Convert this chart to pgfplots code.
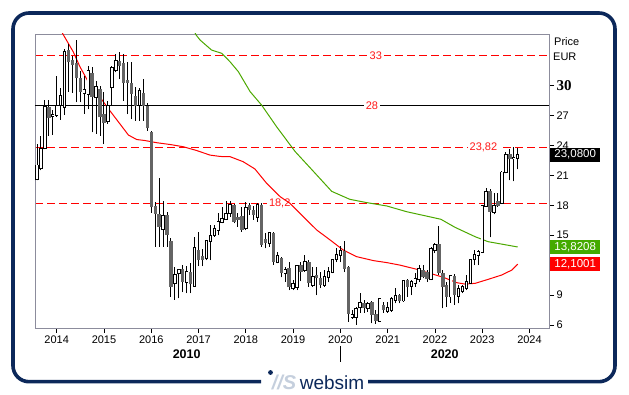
\documentclass[border=0pt]{standalone}
\usepackage{pgfplots}
\pgfplotsset{compat=1.18}
\usepackage{pgfplotstable}
\usepackage{fontspec}
\setmainfont{Liberation Sans}
\newfontfamily\serifb{Liberation Serif}
\newcommand\fs[1]{\fontsize{#1}{#1}\selectfont}
\definecolor{navy}{HTML}{0C285A}
\definecolor{framegray}{HTML}{8C8C9C}
\definecolor{candlegray}{HTML}{646464}
\definecolor{tagred}{HTML}{FF0000}
\definecolor{taggreen}{HTML}{44AA00}
\definecolor{magreen}{HTML}{4CA800}
\definecolor{logolight}{HTML}{C5CFDD}
\definecolor{lblred}{rgb}{1,0.1,0.1}

\pgfplotstableread{
k o h l c
-5 20.6 24.2 20.5 22.0
-4 21.7 25.0 21.5 23.65
-3 23.75 28.6 23.6 27.9
-2 27.9 28.6 25.0 26.8
-1 26.95 27.6 25.1 27.05
0 27.06 31.0 26.9 28.0
1 28.07 29.8 26.6 28.94
2 27.85 33.7 27.1 33.35
3 33.58 34.2 29.4 32.35
4 32.58 33.0 29.3 32.11
5 32.25 34.6 28.35 30.74
6 30.74 31.5 28.35 29.4
7 29.24 31.0 27.2 29.57
8 29.17 32.0 27.66 31.44
9 31.24 31.85 25.33 28.9
10 28.84 30.5 25.16 29.84
11 29.67 30.0 25.0 26.83
12 27.16 29.34 24.15 26.23
13 26.43 28.5 26.16 28.0
14 29.84 32.0 28.0 31.78
15 31.61 33.18 31.34 32.45
16 32.51 33.35 30.67 31.95
17 32.25 33.18 28.5 30.24
18 30.57 32.35 27.16 30.3
19 30.24 32.35 26.66 29.17
20 29.0 29.84 26.49 27.95
21 28.1 29.8 26.5 29.5
22 29.23 30.7 26.5 27.96
23 27.96 28.3 25.5 25.72
24 25.4 25.5 17.26 17.8
25 17.93 18.37 13.85 17.13
26 17.13 20.71 13.85 15.86
27 15.6 18.4 13.85 16.93
28 17.03 17.3 13.85 15.0
29 14.43 14.69 8.83 9.8
30 10.17 11.84 8.5 11.01
31 11.18 11.61 8.67 11.51
32 11.57 12.0 9.3 10.34
33 10.34 11.9 9.2 11.28
34 11.28 12.18 9.2 10.07
35 9.94 14.79 9.9 13.68
36 13.52 15.35 11.9 12.51
37 12.92 13.6 11.9 12.51
38 12.68 14.5 12.5 14.42
39 14.45 16.0 12.51 14.92
40 15.02 16.0 14.85 15.62
41 15.52 17.2 15.0 16.29
42 16.36 17.8 16.2 16.63
43 16.6 18.43 16.53 17.09
44 17.2 18.43 16.86 18.03
45 18.03 18.1 16.2 16.36
46 16.86 17.2 15.86 16.53
47 16.93 17.86 15.35 15.52
48 15.69 18.36 15.52 17.7
49 18.04 18.2 17.03 17.53
50 17.53 17.93 16.53 17.03
51 16.86 18.2 16.36 18.04
52 18.04 18.2 13.85 14.02
53 14.59 15.19 13.69 14.26
54 14.19 15.36 13.85 15.19
55 15.26 15.36 12.02 12.35
56 12.35 13.35 12.18 12.92
57 12.68 12.85 10.77 11.18
58 11.18 11.85 10.34 11.51
59 11.68 12.35 9.5 9.77
60 9.67 10.5 9.5 10.07
61 9.84 12.0 9.5 11.91
62 12.01 12.35 10.4 11.34
63 11.51 12.99 11.34 12.28
64 12.28 12.5 9.84 10.17
65 10.0 11.84 9.84 10.84
66 11.01 11.84 9.0 10.67
67 10.67 11.3 9.7 10.0
68 10.0 11.5 9.84 10.84
69 10.84 11.84 10.3 11.34
70 11.34 12.5 11.17 12.51
71 12.58 13.68 12.3 13.02
72 13.02 13.9 12.3 13.4
73 13.4 14.4 11.3 11.6
74 11.78 11.9 6.33 7.1
75 6.76 7.5 6.6 7.0
76 6.83 7.75 6.0 7.56
77 7.76 9.2 7.2 8.17
78 8.17 8.5 7.2 7.67
79 7.7 8.3 7.3 8.1
80 8.33 8.4 6.16 7.0
81 7.1 7.5 6.1 6.43
82 6.43 8.67 6.33 8.57
83 8.0 8.33 7.23 7.5
84 7.43 8.33 7.2 7.67
85 7.5 8.77 7.33 8.57
86 8.5 9.67 8.17 8.9
87 9.0 9.1 8.17 8.44
88 8.44 10.51 8.33 10.44
89 10.51 10.58 8.84 9.84
90 9.91 10.51 9.0 10.34
91 10.17 11.18 9.84 10.58
92 10.58 12.02 10.35 11.58
93 11.51 12.02 10.68 10.78
94 11.35 11.51 10.35 10.58
95 10.58 13.79 10.51 13.59
96 13.52 14.19 13.2 14.02
97 14.1 15.92 11.0 11.24
98 11.24 11.5 7.66 9.77
99 10.0 10.34 7.83 8.84
100 8.84 11.0 8.2 10.9
101 10.9 11.1 8.0 9.0
102 8.9 10.0 8.16 9.57
103 9.44 10.0 9.2 9.84
104 9.67 11.0 9.5 10.34
105 10.24 12.51 10.17 12.51
106 12.58 13.5 12.0 13.02
107 13.02 13.5 12.0 13.35
108 13.3 17.93 13.25 17.9
109 17.93 19.7 17.87 19.3
110 19.47 19.6 14.79 17.36
111 17.36 19.2 17.1 17.93
112 18.43 19.2 17.87 17.93
113 18.26 21.4 18.2 21.3
114 21.31 23.3 21.2 23.04
115 23.14 23.7 20.5 22.61
116 22.7 23.88 20.4 22.75
117 22.75 23.71 21.6 23.08
}\candles

\pgfplotstableread{
k v
1.0 35.6
1.7 35.1
4.2 33.4
5.9 31.9
8.0 30.4
10.6 29.06
13.1 27.7
15.6 26.4
18.2 25.05
20.3 24.6
22.4 24.5
25.4 24.28
28.8 24.1
32.1 23.88
35.5 23.5
38.9 23.04
41.5 22.9
44.0 22.88
47.3 22.38
50.3 21.65
53.3 20.2
56.7 18.87
59.2 18.2
62.6 16.86
66.0 15.52
69.4 14.52
72.7 13.52
76.1 12.85
80.4 12.45
83.8 12.25
87.1 12.0
91.4 11.58
94.7 11.18
98.1 10.78
101.5 10.24
103.6 10.1
106.2 10.17
109.5 10.57
112.9 11.0
115.5 11.5
117.0 12.1
}\mared

\pgfplotstableread{
k v
35.0 35.4
35.4 35.08
36.4 34.58
39.3 33.58
41.9 33.25
44.0 32.4
46.1 31.41
49.1 29.4
52.0 28.06
55.8 25.89
60.5 23.4
64.7 21.6
69.8 19.4
74.4 18.6
78.7 18.27
83.8 17.93
88.8 17.36
97.5 16.6
101.1 15.79
106.2 14.85
109.5 14.35
117.0 13.82
}\magreenT

\pgfplotsset{
  candlebar/.style={only marks, mark=*, mark size=0pt,
    mark options={draw=none, fill=none},
    error bars/.cd, y dir=plus, y explicit, error mark=-,
    error mark options={draw=none, fill=none, mark size=0pt},
    error bar style={#1}},
}

\begin{document}
\begin{tikzpicture}[x=1pt,y=1pt]
\path[use as bounding box] (0,0) rectangle (629,395);
% dashed reference lines at 33, 23.82 and 18.2 (beneath the plot)
\begin{scope}
\clip (35,67) rectangle (549,361);
\foreach \yy in {339.5,247.5,191.5} {
  \foreach \i in {0,...,43} {
    \fill[tagred] (35+\i*12,\yy-0.7) rectangle (43+\i*12,\yy+0.7);
  }
}
\end{scope}
\begin{axis}[
  at={(35pt,67pt)}, anchor=south west, scale only axis,
  width=514pt, height=294pt,
  xmin=-5.51, xmax=124.95, ymin=5.69, ymax=35.19,
  axis line style={draw=framegray, line width=0.9pt},
  xtick={0,12,24,36,48,60,72,84,96,108,120},
  xticklabels={2014,2015,2016,2017,2018,2019,2020,2021,2022,2023,2024},
  ytick={6,9,12,15,18,21,24,27,30},
  yticklabels={6,9,12,15,18,21,24,27,{\serifb\bfseries\fs{15}30}},
  xtick pos=bottom, ytick pos=right, yticklabel pos=right,
  tick align=outside, major tick length=5pt,
  tick style={black, line width=0.8pt},
  ticklabel style={font=\fs{11}, text=black},
  xticklabel style={yshift=1pt},
  yticklabel style={xshift=-1pt},
]
\addplot[draw=black, line width=1pt] coordinates {(-5.51,28) (124.95,28)};
\node[fill=white, text=lblred, font=\fs{11}, inner sep=2pt] at (axis cs:81,33) {33};
\node[fill=white, text=lblred, font=\fs{11}, inner sep=2pt] at (axis cs:80,28) {28};
\node[fill=white, text=lblred, font=\fs{11}, inner sep=2pt] at (axis cs:108.3,23.82) {23,82};
\node[fill=white, text=lblred, font=\fs{11}, inner sep=2pt] at (axis cs:56.6,18.2) {18,2};
% moving averages
\addplot[draw=tagred, line width=1pt] table[x=k, y=v] {\mared};
\addplot[draw=magreen, line width=1pt] table[x=k, y=v] {\magreenT};
% wicks
\addplot[candlebar={draw=black, line width=1pt}]
  table[x=k, y=l, y error plus expr=\thisrow{h}-\thisrow{l}] {\candles};
% down bodies
\addplot[restrict expr to domain={\thisrow{o}-\thisrow{c}}{0.0001:1000},
  candlebar={draw=candlegray, line width=3.4pt}]
  table[x=k, y=c, y error plus expr=\thisrow{o}-\thisrow{c}] {\candles};
% up bodies: outline
\addplot[restrict expr to domain={\thisrow{c}-\thisrow{o}}{0:1000},
  candlebar={draw=black, line width=3.4pt}]
  table[x=k, y expr=\thisrow{o}-0.09, y error plus expr=\thisrow{c}-\thisrow{o}+0.18] {\candles};
% up bodies: white inside
\addplot[restrict expr to domain={\thisrow{c}-\thisrow{o}}{0:1000},
  candlebar={draw=white, line width=1.6pt}]
  table[x=k, y=o, y error plus expr=\thisrow{c}-\thisrow{o}] {\candles};
\coordinate (tA) at (axis cs:124.95,23.08);
\coordinate (tB) at (axis cs:124.95,13.8208);
\coordinate (tC) at (axis cs:124.95,12.1001);
\end{axis}
% value tags
\node[anchor=west, fill=black, text=white, font=\fs{11.5}, minimum width=50pt, minimum height=14pt, inner sep=0pt, xshift=1pt] at (tA) {23,0800};
\node[anchor=west, fill=taggreen, text=white, font=\fs{11.5}, minimum width=50pt, minimum height=13.5pt, inner sep=0pt, xshift=1pt] at (tB) {13,8208};
\node[anchor=west, fill=tagred, text=white, font=\fs{11.5}, minimum width=50pt, minimum height=13.5pt, inner sep=0pt, xshift=1pt] at (tC) {12,1001};
% unit labels
\node[anchor=west, font=\fs{11}, inner sep=0pt] at (554,353) {Price};
\node[anchor=west, font=\fs{11}, inner sep=0pt] at (553,338) {EUR};
% decades
\node[font=\bfseries\fs{12.5}] at (186.7,41) {2010};
\node[font=\bfseries\fs{12.5}] at (444.7,41) {2020};
\draw[black, line width=0.9pt] (340.4,49) -- (340.4,33);
% frame
\draw[navy, line width=3.6pt, rounded corners=16pt] (261,13.3) -- (13,13.3) -- (13,382) -- (615,382) -- (615,13.3) -- (368,13.3);
% logo
\fill[navy] (270.5,22.5) circle (2.4pt);
\node[anchor=base, text=logolight, font=\bfseries\itshape\fs{20}, inner sep=0pt] at (284,5.5) {//S};
\node[anchor=base, text=navy, font=\fs{19}, inner sep=0pt] at (332,5) {websim};
\end{tikzpicture}
\end{document}
